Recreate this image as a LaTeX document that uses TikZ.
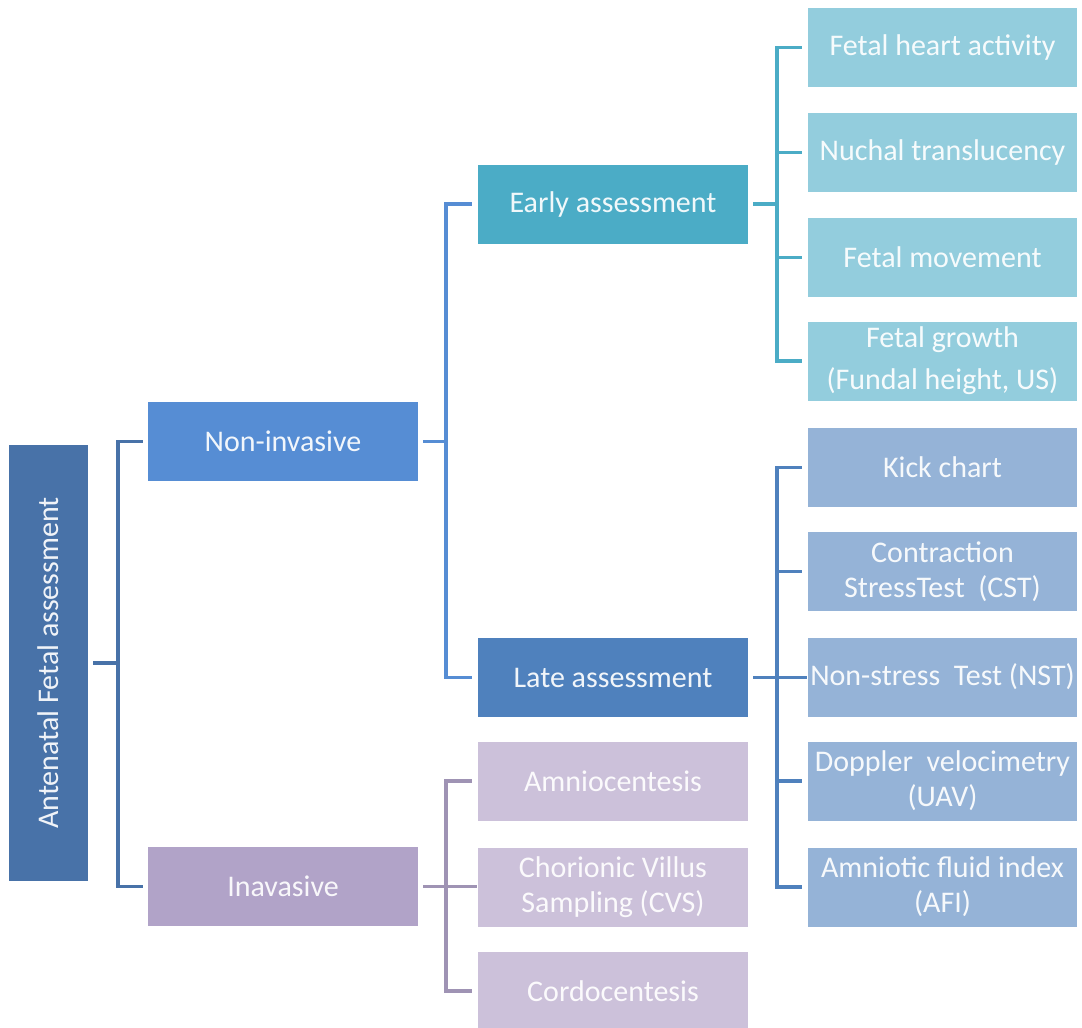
\documentclass[tikz,border=0pt]{standalone}
\usepackage{fontspec}
\setmainfont{Carlito}
\usepackage{tikz}
\usetikzlibrary{positioning}

\definecolor{rootblue}{RGB}{72,114,168}
\definecolor{nonblue}{RGB}{86,141,212}
\definecolor{invpurple}{RGB}{177,163,200}
\definecolor{earlyteal}{RGB}{75,172,198}
\definecolor{lateblue}{RGB}{79,129,189}
\definecolor{earlylight}{RGB}{147,205,221}
\definecolor{latelight}{RGB}{149,179,215}
\definecolor{invlight}{RGB}{204,193,218}

\begin{document}
\begin{tikzpicture}[x=1pt,y=-1pt,
  box/.style={rectangle, minimum width=270pt, minimum height=79pt, inner sep=0pt,
    align=center, text=white, text opacity=0.92, font=\fontsize{30}{35}\selectfont},
  lnk/.style={line width=3.8pt}]
\useasboundingbox (0,0) rectangle (1082,1028);
% root and first level
\node[box, fill=rootblue, minimum width=79pt, minimum height=436pt] (root) at (48.5,663) {};
\node[rotate=90, text=white, text opacity=0.92, font=\fontsize{30}{35}\selectfont] (rootlabel) at (root.center) {Antenatal Fetal assessment};
\node[box, fill=nonblue] (noninv) at (283,441.5) {Non-invasive};
\node[box, fill=invpurple] (inv) at (283,886.5) {Inavasive};
% second level
\node[box, fill=earlyteal] (early) at (613,204) {Early assessment};
\node[box, fill=lateblue] (late) at (613,677.5) {Late assessment};
\node[box, fill=invlight] (amnio) at (613,781) {Amniocentesis};
\node[box, fill=invlight] (cvs) at (613,887) {Chorionic Villus\\Sampling (CVS)};
\node[box, fill=invlight] (cordo) at (613,991) {Cordocentesis};
% early tests
\node[box, fill=earlylight, minimum width=269pt] (heart) at (942.5,47.5) {Fetal heart activity};
\node[box, fill=earlylight, minimum width=269pt] (nuchal) at (942.5,152.5) {Nuchal translucency};
\node[box, fill=earlylight, minimum width=269pt] (movement) at (942.5,257.5) {Fetal movement};
\node[box, fill=earlylight, minimum width=269pt, font=\fontsize{30}{42}\selectfont] (growth) at (942.5,361) {Fetal growth\\(Fundal height, US)};
% late tests
\node[box, fill=latelight, minimum width=269pt] (kick) at (942.5,467.5) {Kick chart};
\node[box, fill=latelight, minimum width=269pt] (cst) at (942.5,571.5) {Contraction\\StressTest~ (CST)};
\node[box, fill=latelight, minimum width=269pt] (nst) at (942.5,677) {Non-stress~ Test (NST)};
\node[box, fill=latelight, minimum width=269pt] (doppler) at (942.5,781) {Doppler~ velocimetry\\(UAV)};
\node[box, fill=latelight, minimum width=269pt] (afi) at (942.5,887) {Amniotic fluid index\\(AFI)};

% connectors
\draw[lnk, rootblue] ([xshift=5]root.east) -- ++(25,0) coordinate (rj);
\draw[lnk, rootblue] ([xshift=-5]noninv.west) -| (rj) |- ([xshift=-5]inv.west);

\draw[lnk, nonblue] ([xshift=5]noninv.east) -- ++(23,0) coordinate (nj);
\draw[lnk, nonblue] ([xshift=-6]early.west) -| (nj) |- ([xshift=-6]late.west);

\draw[lnk, invpurple!90!black] ([xshift=5]inv.east) -- ++(54,0);
\draw[lnk, invpurple!90!black] ([xshift=-6]amnio.west) -| ([xshift=28]inv.east) |- ([xshift=-6]cordo.west);

\draw[lnk, earlyteal] ([xshift=5]early.east) -- ++(24,0) coordinate (ej);
\draw[lnk, earlyteal] ([xshift=-6]heart.west) -| (ej) |- ([xshift=-6]growth.west);
\foreach \n in {nuchal,movement}
  \draw[lnk, earlyteal] (ej |- \n.west) -- ([xshift=-6]\n.west);

\draw[lnk, lateblue] ([xshift=5]late.east) -- ++(54,0);
\draw[lnk, lateblue] ([xshift=-6]kick.west) -| ([xshift=29]late.east) |- ([xshift=-6]afi.west);
\foreach \n in {cst,doppler}
  \draw[lnk, lateblue] ([xshift=29]late.east |- \n.west) -- ([xshift=-6]\n.west);
\end{tikzpicture}
\end{document}
